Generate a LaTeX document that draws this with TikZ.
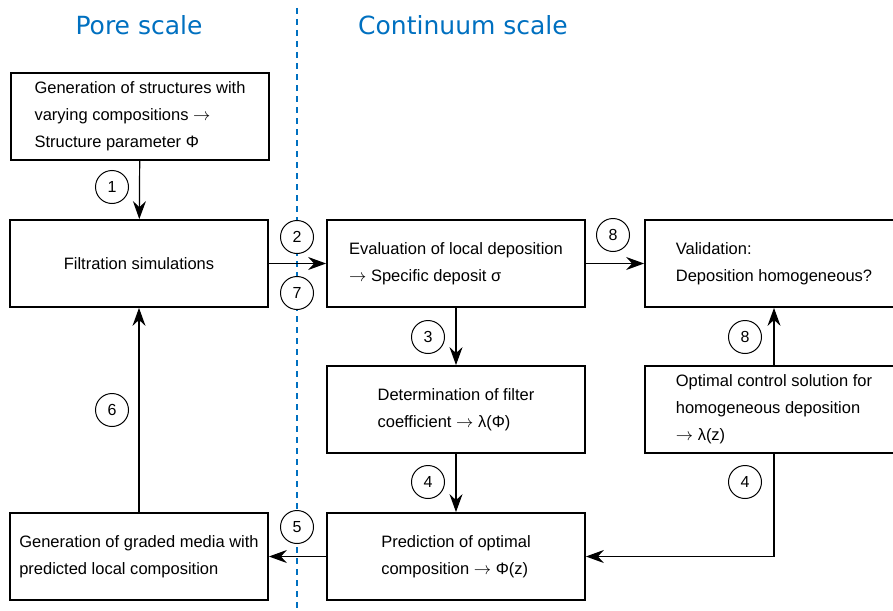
\documentclass[tikz,border=0pt]{standalone}
\usepackage{fontspec}
\setmainfont{Liberation Sans}
\newfontfamily\titlefont{DejaVu Sans}
\usetikzlibrary{arrows.meta}
\definecolor{scaleblue}{RGB}{0,112,192}

\begin{document}
\begin{tikzpicture}[x=1pt, y=-1pt,
    box/.style={rectangle, draw, line width=1.8pt, minimum width=258pt, minimum height=87pt,
        align=left, font=\fontsize{16.5}{27}\selectfont},
    num/.style={circle, draw, fill=white, line width=1pt, minimum size=33pt, inner sep=0pt,
        font=\fontsize{16}{16}\selectfont},
    flow/.style={line width=1.2pt, -{Stealth[length=18pt, width=13pt, inset=6pt]}},
    heading/.style={text=scaleblue, font=\titlefont\fontsize{25}{25}\selectfont}]
    \useasboundingbox (0,0) rectangle (893,610);

    % Headings and the dashed border between the two scales
    \node[heading] (pore) at (139,25) {Pore scale};
    \node[heading] (cont) at (463,25) {Continuum scale};
    \draw[scaleblue, line width=1.3pt, dash pattern=on 6pt off 5pt] (297,8) -- (297,610);

    % Process steps
    \node[box] (gen) at (140,116.5) {Generation of structures with\\varying compositions $\rightarrow$\\Structure parameter Φ};
    \node[box] (filt) at (139,263.5) {Filtration simulations};
    \node[box] (eval) at (456,263.5) {Evaluation of local deposition\\$\rightarrow$ Specific deposit σ};
    \node[box] (valid) at (774,263.5) {Validation:\\Deposition homogeneous?};
    \node[box] (det) at (456,409.5) {Determination of filter\\coefficient $\rightarrow$ λ(Φ)};
    \node[box] (optc) at (774,409.5) {Optimal control solution for\\homogeneous deposition\\$\rightarrow$ λ(z)};
    \node[box] (pred) at (456,556.5) {Prediction of optimal\\composition $\rightarrow$ Φ(z)};
    \node[box] (graded) at (139,556.5) {Generation of graded media with\\predicted local composition};

    % Connections between the steps
    \draw[flow] (gen) -- (filt);
    \draw[flow] (filt) -- (eval);
    \draw[flow] (eval) -- (valid);
    \draw[flow] (eval) -- (det);
    \draw[flow] (optc) -- (valid);
    \draw[flow] (det) -- (pred);
    \draw[flow] (optc.south) |- (pred.east);
    \draw[flow] (pred) -- (graded);
    \draw[flow] (graded) -- (filt);

    % Step numbers
    \node[num] (n1) at (112,187) {1};
    \node[num] (n2) at (297,237) {2};
    \node[num] (n7) at (297,293) {7};
    \node[num] (n8a) at (613,235) {8};
    \node[num] (n3) at (428,337) {3};
    \node[num] (n8b) at (745,337) {8};
    \node[num] (n6) at (112,410) {6};
    \node[num] (n4a) at (428,482) {4};
    \node[num] (n4b) at (745,482) {4};
    \node[num] (n5) at (297,527) {5};
\end{tikzpicture}
\end{document}
